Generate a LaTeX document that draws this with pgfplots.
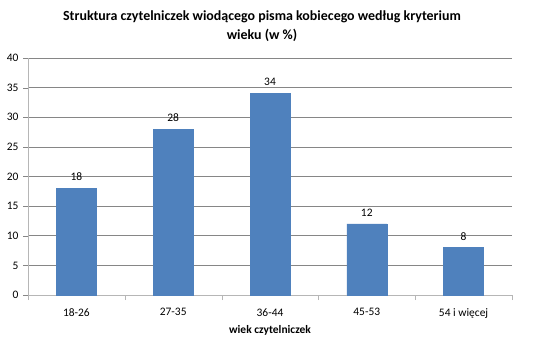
\documentclass[border=0pt]{standalone}
\usepackage{pgfplots}
\pgfplotsset{compat=1.18}
\usepackage{fontspec}
\setmainfont{Carlito}
\definecolor{barblue}{HTML}{4F81BD}
\definecolor{gridgray}{HTML}{868686}
\begin{document}
\begin{tikzpicture}[x=1bp,y=1bp]
\useasboundingbox (0,0) rectangle (543,340);
\node[font=\fontsize{14}{19}\selectfont\bfseries,align=center] at (262,314) {Struktura czytelniczek wiodącego pisma kobiecego według kryterium\\wieku (w \%)};
\begin{axis}[
  at={(28bp,45bp)}, anchor=south west,
  scale only axis, width=484bp, height=237bp,
  xmin=-0.5, xmax=4.5, ymin=0, ymax=40,
  axis x line*=bottom, axis y line*=left,
  axis line style={gridgray!60},
  xtick={0,1,2,3,4},
  xticklabels={18-26,27-35,36-44,45-53,54 i więcej},
  major x tick style={draw=none},
  minor xtick={-0.5,0.5,1.5,2.5,3.5,4.5},
  minor x tick style={gridgray!60},
  minor tick length=5bp,
  ytick={0,5,...,40},
  major tick length=5bp,
  tick align=outside,
  y tick style={gridgray},
  ymajorgrids, grid style={gridgray, line width=0.6pt},
  tick label style={font=\fontsize{11.5}{13}\selectfont},
  /pgf/number format/assume math mode=true,
  xticklabel style={yshift=-5bp},
  yticklabel style={xshift=-1bp},
  xlabel={\bfseries wiek czytelniczek},
  xlabel style={font=\fontsize{11.5}{13}\selectfont, yshift=0bp},
  ybar, bar width=40bp,
  nodes near coords,
  nodes near coords style={font=\fontsize{11.5}{13}\selectfont, color=black, yshift=4bp},
]
\addplot[fill=barblue, draw=barblue] coordinates {(0,18) (1,28) (2,34) (3,12) (4,8)};
\end{axis}
\end{tikzpicture}
\end{document}
